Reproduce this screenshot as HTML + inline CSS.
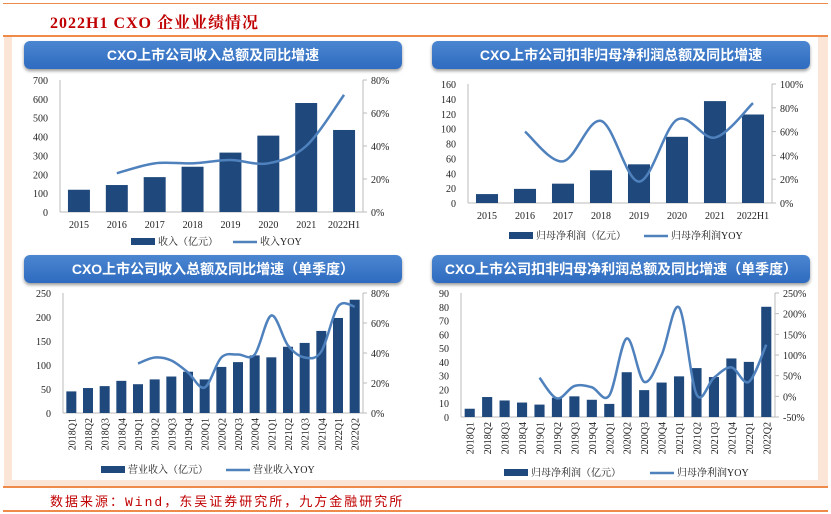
<!DOCTYPE html>
<html><head><meta charset="utf-8"><style>
body{margin:0;width:831px;height:514px;background:#fff;position:relative;overflow:hidden;font-family:"Liberation Serif","Noto Serif CJK SC",serif;}
.abs{position:absolute}
.hdr{position:absolute;height:28px;border-radius:6px;background:linear-gradient(#4a86d0,#2f6bbf);box-shadow:0 2px 3px #999;color:#fff;font:bold 14px "Liberation Sans","Noto Sans CJK SC",sans-serif;text-align:center;line-height:28px;}
svg text{font-family:"Liberation Serif","Noto Serif CJK SC",serif;font-size:10px;fill:#222}
</style></head><body>
<div class="abs" style="left:3px;top:3px;width:825px;height:1px;background:#ee8a4a"></div>
<div class="abs" style="left:50px;top:10px;font:bold 16px 'Liberation Serif','Noto Serif CJK SC',serif;color:#c00000;letter-spacing:1px">2022H1 CXO 企业业绩情况</div>
<div class="abs" style="left:3px;top:35px;width:825px;height:2px;background:#ee8a4a"></div>
<div class="abs" style="left:4px;top:37px;width:824px;height:449px;background:#fbe5d6"></div>
<div class="abs" style="left:12px;top:37px;width:806px;height:443px;background:#fff"></div>
<div class="abs" style="left:3px;top:486px;width:825px;height:2px;background:#ee8a4a"></div>
<div class="abs" style="left:50px;top:491px;font:13px 'Liberation Mono','Noto Sans CJK SC',monospace;color:#c00000;letter-spacing:2px">数据来源：Wind，东吴证券研究所，九方金融研究所</div>
<div class="abs" style="left:3px;top:510px;width:825px;height:2px;background:#ee8a4a"></div>

<div class="hdr" style="left:24px;top:41px;width:378px">CXO上市公司收入总额及同比增速</div>
<div class="hdr" style="left:432px;top:41px;width:378px">CXO上市公司扣非归母净利润总额及同比增速</div>
<div class="hdr" style="left:24px;top:255px;width:378px">CXO上市公司收入总额及同比增速（单季度）</div>
<div class="hdr" style="left:432px;top:255px;width:378px">CXO上市公司扣非归母净利润总额及同比增速（单季度）</div>

<svg id="svg" class="abs" style="left:0;top:0" width="831" height="514"></svg>
<script>
const c1Cats=['2015','2016','2017','2018','2019','2020','2021','2022H1'];
const c1Bars=[118,143,185,240,315,405,578,435];
const c1Yoy=[null,23.5,29.5,29.5,31.5,29.5,40,71];
const c1LeftTicks=[0,100,200,300,400,500,600,700];
const c1RightTicks=[0,20,40,60,80];

const c2Cats=['2015','2016','2017','2018','2019','2020','2021','2022H1'];
const c2Bars=[12,19,26,44,52,89,137,119];
const c2Yoy=[null,60,35,69,18,70,55,84];
const c2LeftTicks=[0,20,40,60,80,100,120,140,160];
const c2RightTicks=[0,20,40,60,80,100];

const qCats=['2018Q1','2018Q2','2018Q3','2018Q4','2019Q1','2019Q2','2019Q3','2019Q4','2020Q1','2020Q2','2020Q3','2020Q4','2021Q1','2021Q2','2021Q3','2021Q4','2022Q1','2022Q2'];
const c3Bars=[45,52,56,67,60,70,76,86,70,96,106,120,116,138,146,171,198,236];
const c3Yoy=[null,null,null,null,33,37,35,27,17,37,39,39,65,45,37,41,71,71];
const c3LeftTicks=[0,50,100,150,200,250];
const c3RightTicks=[0,20,40,60,80];

const c4Bars=[6,14.5,12,10.5,9,14,15,12.5,9.5,32.5,19.5,25,29.5,35.5,29,42.5,40,80];
const c4Yoy=[null,null,null,null,45,-5,25,22,2,140,35,100,215,5,45,70,35,125];
const c4LeftTicks=[0,10,20,30,40,50,60,70,80,90];
const c4RightTicks=[-50,0,50,100,150,200,250];

const NS='http://www.w3.org/2000/svg';
const svg=document.getElementById('svg');
function el(t,a,p){const e=document.createElementNS(NS,t);for(const k in a)e.setAttribute(k,a[k]);(p||svg).appendChild(e);return e;}

function chart(o){
  const g=el('g',{});
  
  
  const lmin=o.lt[0],lmax=o.lt[o.lt.length-1],rmin=o.rt[0],rmax=o.rt[o.rt.length-1];
  const yL=v=>o.y0-(v-lmin)/(lmax-lmin)*(o.y0-o.y1);
  const yR=v=>o.y0-(v-rmin)/(rmax-rmin)*(o.y0-o.y1);
  const n=o.cats.length,step=(o.x1-o.x0)/n;
  const xC=i=>o.x0+step*(i+0.5);
  el('line',{x1:o.x0,y1:o.y1,x2:o.x0,y2:o.y0,stroke:'#bbb'},g);
  el('line',{x1:o.x1,y1:o.y1,x2:o.x1,y2:o.y0,stroke:'#bbb'},g);
  el('line',{x1:o.x0,y1:o.y0,x2:o.x1,y2:o.y0,stroke:'#bbb'},g);
  o.lt.forEach(v=>{const t=el('text',{x:o.x0-12,y:yL(v)+4,'text-anchor':'end'},g);t.textContent=v;
    
    });
  o.rt.forEach(v=>{el('line',{x1:o.x1,y1:yR(v),x2:o.x1+4,y2:yR(v),stroke:'#bbb'},g);
    const t=el('text',{x:o.x1+8,y:yR(v)+4},g);t.textContent=v+'%';
    
    });
  const bw=step*o.bwr;
  o.bars.forEach((v,i)=>{const r=el('rect',{x:xC(i)-bw/2,y:yL(v),width:bw,height:o.y0-yL(v),fill:'#1f497d'},g);
    
    });
  o.cats.forEach((c,i)=>{let t;
    if(o.rot){t=el('text',{x:0,y:0,'text-anchor':'end',transform:'translate('+(xC(i)+4)+','+(o.y0+5)+') rotate(-90)'},g);}
    else t=el('text',{x:xC(i),y:o.y0+16,'text-anchor':'middle'},g);
    t.textContent=c;
    
    });
  const pts=[];o.yoy.forEach((v,i)=>{if(v!=null)pts.push([xC(i),yR(v)]);});
  let d='M'+pts[0][0]+','+pts[0][1];
  for(let i=0;i<pts.length-1;i++){const p0=pts[i-1]||pts[i],p1=pts[i],p2=pts[i+1],p3=pts[i+2]||p2;
    d+=` C${p1[0]+(p2[0]-p0[0])/6},${p1[1]+(p2[1]-p0[1])/6} ${p2[0]-(p3[0]-p1[0])/6},${p2[1]-(p3[1]-p1[1])/6} ${p2[0]},${p2[1]}`;}
  const pl=el('path',{d:d,fill:'none',stroke:'#4f81bd','stroke-width':2.5},g);
  
  
  const lx=o.legX;
  const lr=el('rect',{x:lx,y:o.legY-4,width:24,height:7,fill:'#1f497d'},g);
  
  
  const t1=el('text',{x:lx+27,y:o.legY+3},g);t1.textContent=o.leg1;
  
  
  const ll=el('line',{x1:lx+o.leg2dx,y1:o.legY,x2:lx+o.leg2dx+24,y2:o.legY,stroke:'#4f81bd','stroke-width':2.5},g);
  
  
  const t2=el('text',{x:lx+o.leg2dx+27,y:o.legY+3},g);t2.textContent=o.leg2;
  
  
}
chart({name:'chart1-revenue',cats:c1Cats,bars:c1Bars,yoy:c1Yoy,lt:c1LeftTicks,rt:c1RightTicks,x0:60,x1:363,y0:212,y1:80,bwr:0.58,legX:131,legY:242,leg1:'收入（亿元）',leg2dx:102,leg2:'收入YOY'});
chart({name:'chart2-net-profit',cats:c2Cats,bars:c2Bars,yoy:c2Yoy,lt:c2LeftTicks,rt:c2RightTicks,x0:468,x1:772,y0:203,y1:84,bwr:0.58,legX:509,legY:236,leg1:'归母净利润（亿元）',leg2dx:135,leg2:'归母净利润YOY'});
chart({name:'chart3-quarterly-revenue',cats:qCats,bars:c3Bars,yoy:c3Yoy,lt:c3LeftTicks,rt:c3RightTicks,x0:63,x1:363,y0:413,y1:293,bwr:0.6,rot:true,legX:101,legY:470,leg1:'营业收入（亿元）',leg2dx:125,leg2:'营业收入YOY'});
chart({name:'chart4-quarterly-profit',cats:qCats,bars:c4Bars,yoy:c4Yoy,lt:c4LeftTicks,rt:c4RightTicks,x0:461,x1:775,y0:417,y1:293,bwr:0.58,rot:true,legX:504,legY:473,leg1:'归母净利润（亿元）',leg2dx:146,leg2:'归母净利润YOY'});
</script>
</body></html>
